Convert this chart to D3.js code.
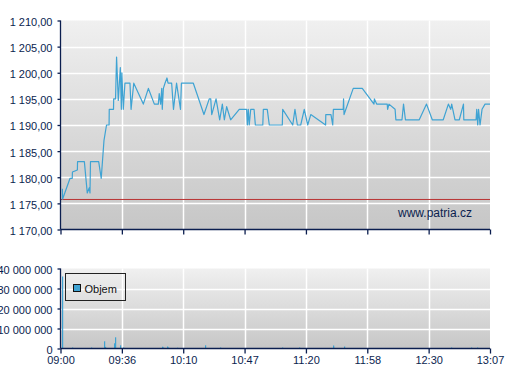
<!DOCTYPE html>
<html><head><meta charset="utf-8">
<script src="https://cdn.jsdelivr.net/npm/d3@7/dist/d3.min.js"></script>
<style>
html,body{margin:0;padding:0;background:#fff;}
svg{display:block;font-family:"Liberation Sans",Arial,sans-serif;}
</style></head><body>
<svg id="c" width="507" height="380"></svg>
<script>
// ---- DATA ----
const xTickMinutes = [0, 36, 70, 107, 140, 178, 210, 247];
const xTickLabels = ["09:00", "09:36", "10:10", "10:47", "11:20", "11:58", "12:30", "13:07"];
const priceTicks = [1170, 1175, 1180, 1185, 1190, 1195, 1200, 1205, 1210];
const volumeTicks = [0, 10e6, 20e6, 30e6, 40e6];
const referencePrice = 1175.75;
// minutes since 09:00
const priceTime = [1.1,1.2,5.6,6.9,7.0,9.9,10.0,14.0,15.7,16.5,16.9,17.3,17.6,22.4,23.9,25.5,27.0,28.5,28.6,31.1,31.2,32.3,32.9,33.9,35.1,35.7,36.0,36.8,37.7,40.5,41.1,42.6,47.9,50.7,54.0,56.2,56.7,57.5,58.1,58.4,59.0,59.9,61.0,61.6,63.6,64.6,66.3,68.5,69.0,76.1,82.5,85.7,86.6,87.2,89.8,92.0,93.6,94.8,96.2,98.6,103.8,108.1,108.5,109.0,109.5,110.3,112.1,112.8,116.8,117.1,119.2,120.3,127.3,127.5,132.9,134.1,135.4,137.2,139.1,141.1,143.0,152.2,152.3,155.5,156.6,157.0,163.1,163.3,163.6,169.3,174.9,181.5,181.7,182.9,188.4,188.6,189.3,192.5,192.9,196.1,196.9,197.9,205.1,208.9,212.2,218.8,221.9,223.3,223.9,225.9,228.5,231.0,231.2,238.6,239.0,239.6,240.1,241.0,242.2,244.0,247.0];
const priceValue = [1177.8,1175.8,1179.8,1179.8,1181,1181.4,1183,1183,1177,1177.7,1178,1177,1183,1183,1179.8,1187,1190,1190,1193,1193,1195,1195,1203,1194.7,1201,1193,1200,1193,1198,1198,1193,1198,1194,1197,1194,1194,1196,1194,1197,1193,1197,1198,1199,1198,1198,1193,1198,1193,1198,1198,1192,1195,1195,1192,1195,1191,1194,1191,1193.5,1191,1193,1193,1190,1193,1190,1193,1193,1190,1190,1193,1193,1190,1190,1193,1190,1193,1190,1190,1193,1190,1192,1190,1192,1192,1190,1193,1193,1195,1192,1197,1197,1194,1195,1194,1194,1193,1194,1193,1191,1191,1194,1191,1191,1194,1191,1191,1194,1193,1194,1191,1191,1194,1191,1191,1193,1190,1193,1190,1193,1194,1194];
const volumeTime = [1.1, 6.9, 18.1, 25.3, 26.3, 31.2, 32.2, 35.1, 36.8, 58.0, 58.8, 61.0, 61.6, 66.8, 83.0, 92.4, 127.3, 136.2, 156.6, 157.0, 163.3, 223.7, 235.8, 239.0];
const volumeValue = [36e6, 0.5e6, 0.5e6, 3.6e6, 0.8e6, 2.6e6, 5.6e6, 1.6e6, 0.5e6, 0.9e6, 0.5e6, 1.0e6, 0.5e6, 0.4e6, 1.6e6, 0.5e6, 0.5e6, 0.5e6, 1.5e6, 1.0e6, 1.0e6, 0.5e6, 0.5e6, 0.5e6];
const seriesName = "Objem";
const watermark = "www.patria.cz";

// ---- LAYOUT ----
const L = 60.5, R = 490;
const topY0 = 20.5, topY1 = 229.5;
const botY0 = 268.5, botY1 = 348.5;
const navy = "#0b1e4f", lineCol = "#3fa3d3";

const svg = d3.select("#c");
const loc = d3.formatLocale({decimal: ",", thousands: " ", grouping: [3], currency: ["", ""]});
const fPrice = loc.format(",.2f"), fVol = loc.format(",d");

const xRange = xTickMinutes.map((d, i) => L + i * (R - L) / (xTickMinutes.length - 1));
const x = d3.scaleLinear().domain(xTickMinutes).range(xRange);
const yP = d3.scaleLinear().domain([1170, 1210]).range([topY1, topY0]);
const yV = d3.scaleLinear().domain([0, 40e6]).range([botY1, botY0]);

const defs = svg.append("defs");
const grad = defs.append("linearGradient").attr("id", "bg").attr("x1", 0).attr("x2", 0).attr("y1", 0).attr("y2", 1);
grad.append("stop").attr("offset", "0%").attr("stop-color", "#f0f0f0");
grad.append("stop").attr("offset", "100%").attr("stop-color", "#c6c6c6");

function panel(y, y0, y1, ticks, fmt) {
  const g = svg.append("g");
  g.append("rect").attr("x", L).attr("y", y0).attr("width", R - L).attr("height", y1 - y0).attr("fill", "url(#bg)");
  // grid
  g.selectAll(".hg").data(ticks.filter(t => y(t) > y0 + 1 && y(t) < y1 - 1)).join("line")
    .attr("x1", L).attr("x2", R).attr("y1", d => Math.round(y(d)) + 0.5).attr("y2", d => Math.round(y(d)) + 0.5)
    .attr("stroke", "#fff").attr("stroke-width", 1.5);
  g.selectAll(".vg").data(xTickMinutes.slice(1, -1)).join("line")
    .attr("x1", d => Math.round(x(d)) + 0.5).attr("x2", d => Math.round(x(d)) + 0.5).attr("y1", y0).attr("y2", y1)
    .attr("stroke", "#fff").attr("stroke-width", 1.5);
  return g;
}

// ---- TOP PANEL ----
const gt = panel(yP, topY0, topY1, priceTicks, fPrice);
gt.append("line").attr("x1", L).attr("x2", R).attr("y1", yP(referencePrice)).attr("y2", yP(referencePrice))
  .attr("stroke", "#b83232").attr("stroke-width", 1);
gt.append("path").datum(priceTime.map((t, i) => [t, priceValue[i]]))
  .attr("d", d3.line().x(d => x(d[0])).y(d => yP(d[1])))
  .attr("fill", "none").attr("stroke", lineCol).attr("stroke-width", 1.2).attr("stroke-linejoin", "round");
gt.append("text").attr("x", 472).attr("y", 216.5).attr("text-anchor", "end").attr("font-size", 12)
  .attr("fill", navy).text(watermark);

const axL1 = d3.axisLeft(yP).tickValues(priceTicks).tickFormat(fPrice).tickSize(3).tickPadding(5);
const ga1 = svg.append("g").attr("transform", `translate(${L},0)`).call(axL1);
const axB1 = d3.axisBottom(x).tickValues(xTickMinutes).tickFormat("").tickSize(5);
const gb1 = svg.append("g").attr("transform", `translate(0,${topY1})`).call(axB1);

// ---- BOTTOM PANEL ----
const gv = panel(yV, botY0, botY1, volumeTicks, fVol);
gv.selectAll(".bar").data(volumeTime.map((t, i) => [t, volumeValue[i]])).join("rect")
  .attr("x", d => Math.round(x(d[0]))).attr("width", 1.2)
  .attr("y", d => yV(d[1])).attr("height", d => yV(0) - yV(d[1]))
  .attr("fill", lineCol);
// legend
const lg = svg.append("g");
lg.append("rect").attr("x", 65.5).attr("y", 273.5).attr("width", 60).attr("height", 27)
  .attr("fill", "none").attr("stroke", "#222").attr("stroke-width", 1);
lg.append("rect").attr("x", 73.5).attr("y", 284.5).attr("width", 7).attr("height", 7)
  .attr("fill", lineCol).attr("stroke", "#111").attr("stroke-width", 1);
lg.append("text").attr("x", 84.5).attr("y", 292.5).attr("font-size", 11).attr("fill", "#111").text(seriesName);

const axL2 = d3.axisLeft(yV).tickValues(volumeTicks).tickFormat(fVol).tickSize(3).tickPadding(5);
const ga2 = svg.append("g").attr("transform", `translate(${L},0)`).call(axL2);
const axB2 = d3.axisBottom(x).tickValues(xTickMinutes).tickFormat((d, i) => xTickLabels[i]).tickSize(5).tickPadding(3);
const gb2 = svg.append("g").attr("transform", `translate(0,${botY1})`).call(axB2);

[ga1, gb1, ga2, gb2].forEach(g => {
  g.select(".domain").attr("stroke", navy).attr("stroke-width", 1.3);
  g.selectAll(".tick line").attr("stroke", navy).attr("stroke-width", 1.3);
  g.selectAll(".tick text").attr("fill", navy).attr("font-size", 11)
    .attr("font-family", '"Liberation Sans",Arial,sans-serif');
});
// axis domains without outer ticks
ga1.select(".domain").attr("d", `M0,${topY0}V${topY1}`);
ga2.select(".domain").attr("d", `M0,${botY0}V${botY1}`);
gb1.select(".domain").attr("d", `M${L},0H${R}`);
gb2.select(".domain").attr("d", `M${L},0H${R}`);
ga1.selectAll(".tick text").attr("dy", "0.45em");
ga2.selectAll(".tick text").attr("dy", "0.45em");
</script>
</body></html>
